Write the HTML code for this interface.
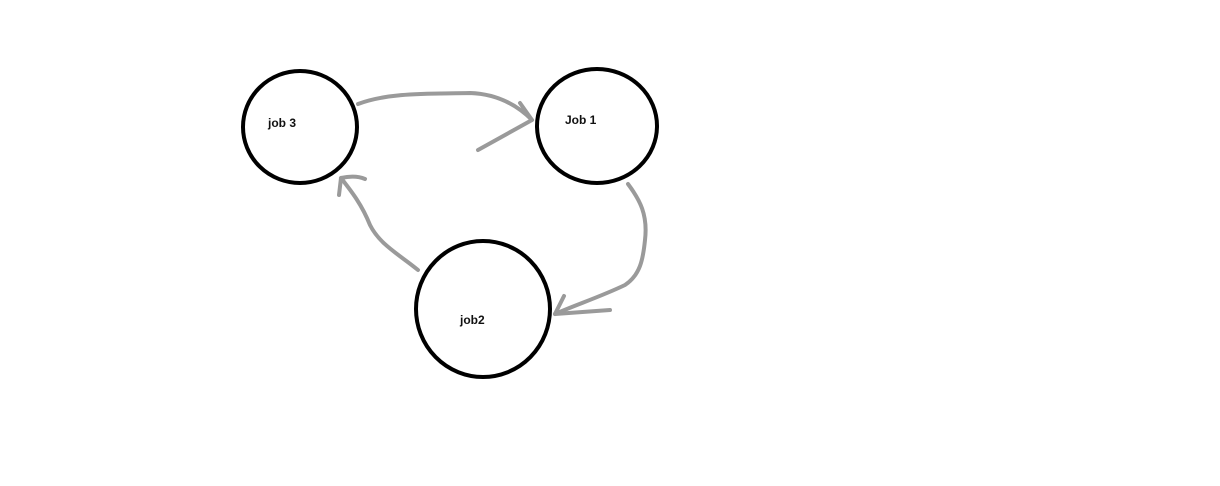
<!DOCTYPE html>
<html><head><style>
html,body{margin:0;padding:0;background:#fff;}
svg{display:block;}
text{font-family:"Liberation Sans",sans-serif;font-weight:bold;font-size:12px;fill:#111;}
</style></head><body>
<svg width="1220" height="486" viewBox="0 0 1220 486">
<g fill="none" stroke="#000" stroke-width="4">
<ellipse cx="300" cy="127" rx="57" ry="56"/>
<ellipse cx="597" cy="126" rx="60" ry="57"/>
<ellipse cx="483" cy="309" rx="67" ry="68"/>
</g>
<g fill="none" stroke="#9a9a9a" stroke-width="4" stroke-linecap="round" stroke-linejoin="round">
<path d="M358,104 C390,92 430,94 470,93 C500,94 520,108 532,120"/>
<path d="M520,103 L532,120 L478,150"/>
<path d="M628,184 C640,200 648,215 645,240 C643,260 640,275 625,285 C600,297 575,305 555,314"/>
<path d="M564,296 L555,314 L610,310"/>
<path d="M418,270 C400,255 380,245 370,225 C362,205 352,192 341,178"/>
<path d="M339,195 L341,178 C350,176 358,176 365,179"/>
</g>
<text x="268" y="127">job 3</text>
<text x="565" y="124">Job 1</text>
<text x="460" y="324">job2</text>
</svg>
</body></html>
